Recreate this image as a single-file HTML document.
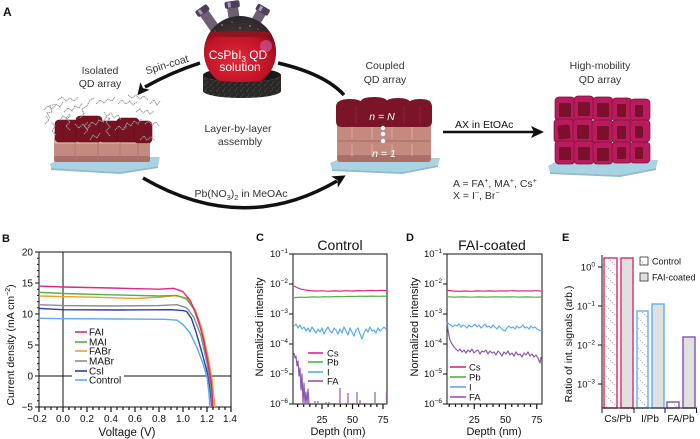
<!DOCTYPE html>
<html><head><meta charset="utf-8">
<style>
html,body{margin:0;padding:0;background:#fff;}
svg{display:block;font-family:"Liberation Sans",Arial,sans-serif;}
</style></head><body>
<svg width="700" height="439" viewBox="0 0 700 439" xmlns="http://www.w3.org/2000/svg">
<defs>
  <pattern id="hatch" width="10" height="10" patternUnits="userSpaceOnUse">
    <path d="M-2,-2 L12,12 M-2,8 L2,12 M8,-2 L12,2" stroke="#9a9a9a" stroke-width="0.7" stroke-dasharray="1.6 1.2"/>
  </pattern>
  <radialGradient id="redg" cx="0.45" cy="0.45" r="0.6">
    <stop offset="0" stop-color="#e02838"/>
    <stop offset="0.7" stop-color="#c01426"/>
    <stop offset="1" stop-color="#7a0a16"/>
  </radialGradient>
  <radialGradient id="glassg" cx="0.5" cy="0.6" r="0.6">
    <stop offset="0" stop-color="#5a4a46"/>
    <stop offset="1" stop-color="#2e2628"/>
  </radialGradient>
  <clipPath id="sph"><circle cx="240" cy="52" r="36"/></clipPath>
  <pattern id="cork" width="6" height="6" patternUnits="userSpaceOnUse">
    <rect width="6" height="6" fill="#2a2826"/>
    <circle cx="1" cy="1" r="0.7" fill="#55524e"/>
    <circle cx="4" cy="3.5" r="0.6" fill="#4a4744"/>
    <circle cx="2.5" cy="5" r="0.5" fill="#5e5a56"/>
  </pattern>
</defs>

<!-- ================= PANEL A ================= -->
<text x="3" y="16" font-size="12" font-weight="bold" fill="#111">A</text>

<!-- flask necks -->
<g transform="rotate(-35 209 20)"><rect x="204" y="10" width="10" height="22" fill="#6e6070"/><rect x="202" y="5" width="14" height="7" rx="2" fill="#4e3e5c"/><rect x="205" y="6" width="3" height="5" fill="#a898b4"/></g>
<g transform="rotate(-8 233 14)"><rect x="228" y="6" width="11" height="20" fill="#6e6070"/><rect x="226" y="1" width="15" height="7" rx="2" fill="#4e3e5c"/><rect x="229" y="2" width="3" height="5" fill="#a898b4"/></g>
<g transform="rotate(30 258 18)"><rect x="253" y="10" width="10" height="20" fill="#6e6070"/><rect x="251" y="5" width="14" height="7" rx="2" fill="#4e3e5c"/><rect x="254" y="6" width="3" height="5" fill="#a898b4"/></g>

<!-- cork back -->
<ellipse cx="242" cy="75" rx="39" ry="7" fill="#1c1a18"/>
<!-- sphere -->
<circle cx="240" cy="52" r="36" fill="url(#glassg)"/>
<g clip-path="url(#sph)">
  <rect x="200" y="33" width="80" height="60" fill="url(#redg)"/>
  <ellipse cx="240" cy="34" rx="36" ry="3" fill="#8e1420"/>
  <circle cx="222" cy="25" r="1" fill="#8a7a5a"/><circle cx="232" cy="22" r="0.8" fill="#7a6a50"/>
  <circle cx="250" cy="26" r="1" fill="#8a7a5a"/><circle cx="258" cy="29" r="0.8" fill="#6a5a48"/>
  <circle cx="240" cy="28" r="0.9" fill="#8a7a5a"/><circle cx="215" cy="31" r="0.8" fill="#6a5a48"/>
  <circle cx="266" cy="46" r="6" fill="#d060a8" opacity="0.6"/>
</g>
<!-- cork front -->
<path d="M203,75 A39,7 0 0 0 281,75 L281,91 A39,7 0 0 1 203,91 Z" fill="url(#cork)"/>
<text x="238" y="59" font-size="12" fill="#fff" text-anchor="middle">CsPbI<tspan dy="3" font-size="8">3</tspan><tspan dy="-3"> QD</tspan></text>
<text x="240" y="71" font-size="12" fill="#fff" text-anchor="middle">solution</text>

<!-- arrows -->
<path d="M200,63 Q172,72 145,87" fill="none" stroke="#111" stroke-width="3.5"/>
<polygon points="137.4,95.3 140.4,82.2 143.1,88.3 149.6,89.8" fill="#111"/>
<path d="M278,63 Q325,74 344,95" fill="none" stroke="#111" stroke-width="3.5"/>
<path d="M143,178 Q243,236 337,181" fill="none" stroke="#111" stroke-width="3.5"/>
<polygon points="345.7,175.4 331.2,176.4 337.5,180.2 337.8,187.6" fill="#111"/>
<line x1="443" y1="132" x2="534" y2="132" stroke="#111" stroke-width="2.5"/>
<polygon points="544,132 531,126 534,132 531,138" fill="#111"/>

<!-- panel A labels -->
<g fill="#333" font-size="10.5">
<text x="168" y="68" text-anchor="middle" transform="rotate(-17 168 68)">Spin-coat</text>
<text x="100" y="74" text-anchor="middle">Isolated</text>
<text x="100" y="87" text-anchor="middle">QD array</text>
<text x="238" y="132" text-anchor="middle">Layer-by-layer</text>
<text x="240" y="145" text-anchor="middle">assembly</text>
<text x="241" y="197" text-anchor="middle">Pb(NO<tspan dy="3" font-size="7.5">3</tspan><tspan dy="-3">)</tspan><tspan dy="3" font-size="7.5">2</tspan><tspan dy="-3"> in MeOAc</tspan></text>
<text x="385" y="69" text-anchor="middle">Coupled</text>
<text x="385" y="83" text-anchor="middle">QD array</text>
<text x="600" y="69" text-anchor="middle">High-mobility</text>
<text x="600" y="83" text-anchor="middle">QD array</text>
<text x="455" y="128" fill="#111">AX in EtOAc</text>
<text x="453" y="187">A = FA<tspan dy="-4" font-size="7">+</tspan><tspan dy="4">, MA</tspan><tspan dy="-4" font-size="7">+</tspan><tspan dy="4">, Cs</tspan><tspan dy="-4" font-size="7">+</tspan></text>
<text x="453" y="199">X = I<tspan dy="-4" font-size="7">−</tspan><tspan dy="4">, Br</tspan><tspan dy="-4" font-size="7">−</tspan></text>
</g>

<!-- isolated QD array -->
<polygon points="50,164 62,157 160,157 158,166 120,172 51,168" fill="#a9d3e3"/>
<polygon points="51,168 120,172 158,166 158,168 120,174 51,170" fill="#8fbccc"/>
<rect x="54" y="138" width="96" height="24" rx="3" fill="#c48a80"/>
<rect x="54" y="138" width="96" height="6" rx="2" fill="#d4a39a"/>
<rect x="54" y="156" width="96" height="6" rx="2" fill="#a87068"/>
<g stroke="#b07870" stroke-width="1"><line x1="75" y1="140" x2="75" y2="160"/><line x1="98" y1="140" x2="98" y2="160"/><line x1="120" y1="140" x2="120" y2="160"/><line x1="138" y1="140" x2="138" y2="160"/></g>
<g fill="#761222" stroke="#5e0c18" stroke-width="0.6">
<rect x="55" y="120" width="24" height="22" rx="4"/>
<rect x="76" y="116" width="26" height="26" rx="4"/>
<rect x="99" y="121" width="22" height="21" rx="4"/>
<rect x="117" y="118" width="22" height="24" rx="4"/>
<rect x="134" y="121" width="18" height="22" rx="4"/>
</g>
<g fill="none" stroke="#9a9a9a" stroke-width="1.1" stroke-dasharray="1.3 0.6">
<polyline points="44,110 48,106 52,109 56,104 60,107 63,102"/>
<polyline points="50,118 47,113 52,112 50,106 55,104"/>
<polyline points="58,100 62,97 66,101 70,98 74,101 78,97"/>
<polyline points="64,112 68,108 72,111 75,106 79,108 82,103"/>
<polyline points="80,118 84,114 82,109 87,106 90,100 94,98"/>
<polyline points="88,126 92,122 96,125 99,120 103,122 106,117 110,119"/>
<polyline points="96,104 100,100 104,103 108,99 112,101 115,97"/>
<polyline points="104,112 107,116 111,113 114,118 118,115 121,120"/>
<polyline points="118,104 122,100 126,104 130,101 133,105 137,102"/>
<polyline points="124,128 127,123 131,126 134,121 138,124 141,119"/>
<polyline points="136,112 140,109 143,113 147,110 150,114 154,111"/>
<polyline points="145,124 149,121 152,125 156,122 159,126"/>
<polyline points="70,130 66,126 70,122 66,118 70,114"/>
<polyline points="110,136 106,131 110,127 106,122 110,118"/>
<polyline points="140,140 144,136 147,140 151,137 155,141"/>
<polyline points="56,135 52,131 55,126 51,122"/>
<polyline points="90,140 93,135 97,138 100,133"/>
<polyline points="128,95 132,98 136,95 140,99 144,96 148,100"/>
<polyline points="75,124 79,128 83,124 87,129 91,125"/>
<polyline points="115,130 119,126 123,130 127,126"/>
<polyline points="150,104 154,100 157,105 160,101"/>
<polyline points="60,120 63,116 67,119 71,115"/>
<polyline points="84,134 88,130 84,126 88,122"/>
<polyline points="45,124 49,120 46,116"/>
</g>

<!-- coupled QD array -->
<polygon points="330,163 344,157 440,158 438,165 402,172 332,169" fill="#a9d3e3"/>
<polygon points="332,169 402,172 438,165 438,167 402,174 332,171" fill="#8fbccc"/>
<rect x="337" y="121" width="94" height="41" rx="4" fill="#c48a80"/>
<rect x="337" y="155" width="94" height="7" rx="3" fill="#a87068"/>
<line x1="338" y1="141" x2="430" y2="141" stroke="#a87068" stroke-width="1.2"/>
<g stroke="#d2a097" stroke-width="1.5"><line x1="352" y1="125" x2="352" y2="139"/><line x1="372" y1="125" x2="372" y2="139"/><line x1="392" y1="125" x2="392" y2="139"/><line x1="412" y1="125" x2="412" y2="139"/>
<line x1="352" y1="144" x2="352" y2="156"/><line x1="372" y1="144" x2="372" y2="156"/><line x1="392" y1="144" x2="392" y2="156"/><line x1="412" y1="144" x2="412" y2="156"/></g>
<rect x="336" y="101" width="96" height="26" rx="5" fill="#7a1426"/>
<g fill="#7a1426"><ellipse cx="350" cy="103" rx="12" ry="4"/><ellipse cx="374" cy="101" rx="13" ry="4"/><ellipse cx="398" cy="102" rx="12" ry="4"/><ellipse cx="420" cy="103" rx="11" ry="4"/></g>
<g stroke="#8e2434" stroke-width="1"><line x1="356" y1="106" x2="356" y2="124"/><line x1="404" y1="106" x2="404" y2="124"/><line x1="420" y1="106" x2="420" y2="124"/></g>
<text x="382" y="120" font-size="10.5" fill="#fff" text-anchor="middle" font-style="italic">n = N</text>
<circle cx="383" cy="128" r="2.2" fill="#fff"/><circle cx="383" cy="134" r="2.2" fill="#fff"/><circle cx="383" cy="141" r="2.2" fill="#fff"/>
<text x="384" y="157" font-size="10.5" fill="#fff" text-anchor="middle" font-style="italic">n = 1</text>

<!-- high-mobility QD array -->
<polygon points="548,166 560,159 658,160 656,168 620,175 550,172" fill="#a9d3e3"/>
<polygon points="550,172 620,175 656,168 656,170 620,177 550,174" fill="#8fbccc"/>
<g stroke="#7d0f38" stroke-width="0.7">
<g fill="#b91c5c">
<rect x="555" y="97" width="20" height="24" rx="4"/><rect x="574" y="96" width="20" height="24" rx="4"/><rect x="593" y="97" width="20" height="24" rx="4"/><rect x="612" y="98" width="20" height="23" rx="4"/><rect x="630" y="99" width="20" height="22" rx="4"/>
<rect x="554" y="119" width="20" height="24" rx="4"/><rect x="573" y="119" width="20" height="24" rx="4"/><rect x="592" y="120" width="21" height="23" rx="4"/><rect x="612" y="120" width="20" height="23" rx="4"/><rect x="630" y="120" width="20" height="22" rx="4"/>
<rect x="555" y="141" width="20" height="23" rx="4"/><rect x="574" y="141" width="20" height="23" rx="4"/><rect x="593" y="142" width="20" height="22" rx="4"/><rect x="612" y="142" width="20" height="21" rx="4"/><rect x="630" y="142" width="20" height="21" rx="4"/>
</g>
<g fill="#7b0f2e" stroke="none">
<rect x="559" y="103" width="12" height="14" rx="1.5"/><rect x="578" y="102" width="12" height="14" rx="1.5"/><rect x="597" y="103" width="12" height="14" rx="1.5"/><rect x="617" y="104" width="9" height="13" rx="1.5"/><rect x="635" y="105" width="8" height="12" rx="1.5"/>
<rect x="558" y="125" width="12" height="14" rx="1.5" transform="rotate(-6 564 132)"/><rect x="577" y="125" width="12" height="14" rx="1.5"/><rect x="597" y="126" width="12" height="14" rx="1.5"/><rect x="617" y="126" width="9" height="13" rx="1.5"/><rect x="635" y="126" width="8" height="12" rx="1.5"/>
<rect x="559" y="147" width="12" height="13" rx="1.5"/><rect x="578" y="147" width="12" height="13" rx="1.5"/><rect x="597" y="148" width="12" height="13" rx="1.5"/><rect x="617" y="147" width="9" height="12" rx="1.5"/><rect x="635" y="147" width="8" height="12" rx="1.5"/>
</g>
</g>

<!-- ================= PANEL B ================= -->
<text x="2" y="242" font-size="11" font-weight="bold" fill="#111">B</text>
<rect x="39" y="252" width="192" height="155" fill="none" stroke="#111" stroke-width="1"/>
<line x1="63" y1="252" x2="63" y2="407" stroke="#111" stroke-width="1"/>
<line x1="39" y1="376" x2="231" y2="376" stroke="#111" stroke-width="1"/>
<!-- left ticks -->
<path d="M35,252H39M35,283H39M35,314H39M35,345H39M35,376H39M35,407H39
M37,400.8H39M37,394.6H39M37,388.4H39M37,382.2H39M37,369.8H39M37,363.6H39M37,357.4H39M37,351.2H39M37,338.8H39M37,332.6H39M37,326.4H39M37,320.2H39M37,307.8H39M37,301.6H39M37,295.4H39M37,289.2H39M37,276.8H39M37,270.6H39M37,264.4H39M37,258.2H39" stroke="#111" stroke-width="1"/>
<!-- bottom ticks -->
<path d="M39,407V412M63,407V412M87,407V412M111,407V412M135,407V412M159,407V412M183,407V412M207,407V412M231,407V412
M45,407V410M51,407V410M57,407V410M69,407V410M75,407V410M81,407V410M93,407V410M99,407V410M105,407V410M117,407V410M123,407V410M129,407V410M141,407V410M147,407V410M153,407V410M165,407V410M171,407V410M177,407V410M189,407V410M195,407V410M201,407V410M213,407V410M219,407V410M225,407V410" stroke="#111" stroke-width="1.2"/>
<g font-size="10" fill="#111" text-anchor="end">
<text x="33" y="255.5">20</text><text x="33" y="286.5">15</text><text x="33" y="317.5">10</text><text x="33" y="348.5">5</text><text x="33" y="379.5">0</text><text x="33" y="410.5">−5</text>
</g>
<g font-size="10" fill="#111" text-anchor="middle">
<text x="37" y="422">−0.2</text><text x="63" y="422">0.0</text><text x="87" y="422">0.2</text><text x="111" y="422">0.4</text><text x="135" y="422">0.6</text><text x="159" y="422">0.8</text><text x="183" y="422">1.0</text><text x="207" y="422">1.2</text><text x="230" y="422">1.4</text>
</g>
<text x="127" y="436" font-size="11.5" fill="#111" text-anchor="middle">Voltage (V)</text>
<text transform="translate(14,345) rotate(-90)" font-size="10.5" fill="#111" text-anchor="middle">Current density (mA cm<tspan dy="-4" font-size="7">−2</tspan><tspan dy="4">)</tspan></text>
<!-- curves -->
<g fill="none" stroke-width="1.4" stroke-linejoin="round">
<polyline stroke="#5aabf0" points="39,318.3 63,318.7 123,319 165,319.3 177,320.2 183,324.5 190.2,333.2 197.4,348.7 203.4,364.8 207,377.2 208.8,391.5 210,407"/>
<polyline stroke="#2b3cae" points="39,308.4 63,309.7 123,310 171,309.7 183,310.6 186.6,311.5 191.4,318.3 196.2,332.6 202.2,353.7 208.2,376 210,388.4 211.8,407"/>
<polyline stroke="#8c8c8c" points="39,304.7 63,305.6 111,306 159,305.6 177,304.7 186.6,307.8 193.8,317.1 201,335.7 207,363.6 210.6,385.3 212.4,407"/>
<polyline stroke="#f0a030" points="39,296 63,296.6 99,297.3 135,298.5 159,297.3 174.6,295.7 186.6,297.9 195,309 202.2,329.5 208.2,357.4 212.4,382.2 214.8,407"/>
<polyline stroke="#55b04a" points="39,292.3 63,293.5 111,294.8 159,296 177,295.4 186.6,299.1 193.8,309 201,329.5 207,357.4 211.2,382.2 213,407"/>
<polyline stroke="#e0287a" points="39,286.1 63,287 111,288 159,289.2 173.4,288.3 183,291.7 190.2,300.4 197.4,317.1 203.4,338.8 208.2,363.6 211.2,382.2 213,407"/>
</g>
<!-- legend -->
<rect x="72" y="327" width="52" height="58" fill="#fff"/>
<g stroke-width="1.6">
<line x1="75" y1="332" x2="87" y2="332" stroke="#e0287a"/>
<line x1="75" y1="342" x2="87" y2="342" stroke="#55b04a"/>
<line x1="75" y1="351" x2="87" y2="351" stroke="#f0a030"/>
<line x1="75" y1="361" x2="87" y2="361" stroke="#8c8c8c"/>
<line x1="75" y1="371" x2="87" y2="371" stroke="#2b3cae"/>
<line x1="75" y1="380" x2="87" y2="380" stroke="#5aabf0"/>
</g>
<g font-size="10" fill="#111">
<text x="89" y="335.5">FAI</text><text x="89" y="345.5">MAI</text><text x="89" y="354.5">FABr</text><text x="89" y="364.5">MABr</text><text x="89" y="374.5">CsI</text><text x="89" y="383.5">Control</text>
</g>

<!-- ================= PANEL C ================= -->
<text x="256" y="241" font-size="11" font-weight="bold" fill="#111">C</text>
<text x="340" y="250" font-size="14" fill="#111" text-anchor="middle">Control</text>
<rect x="293" y="254" width="94" height="150" fill="none" stroke="#111" stroke-width="1"/>
<path d="M289,254H293M289,284H293M289,314H293M289,344H293M289,374H293M289,404H293" stroke="#111" stroke-width="1"/>
<path d="M322,404V409M352.5,404V409M383,404V409M297.6,404V407M303.7,404V407M309.8,404V407M315.9,404V407M328.1,404V407M334.2,404V407M340.3,404V407M346.4,404V407M358.6,404V407M364.7,404V407M370.8,404V407M376.9,404V407" stroke="#111" stroke-width="1.2"/>
<g font-size="9.5" fill="#111" text-anchor="end">
<text x="288" y="257">10<tspan dy="-4" font-size="6.5">−1</tspan></text>
<text x="288" y="287">10<tspan dy="-4" font-size="6.5">−2</tspan></text>
<text x="288" y="317">10<tspan dy="-4" font-size="6.5">−3</tspan></text>
<text x="288" y="347">10<tspan dy="-4" font-size="6.5">−4</tspan></text>
<text x="288" y="377">10<tspan dy="-4" font-size="6.5">−5</tspan></text>
<text x="288" y="407">10<tspan dy="-4" font-size="6.5">−6</tspan></text>
</g>
<g font-size="10" fill="#111" text-anchor="middle"><text x="322" y="423">25</text><text x="352.5" y="423">50</text><text x="383" y="423">75</text></g>
<text x="338" y="435" font-size="11" fill="#111" text-anchor="middle">Depth (nm)</text>
<text transform="translate(263,327) rotate(-90)" font-size="11" fill="#111" text-anchor="middle">Normalized intensity</text>
<g fill="none" stroke-width="1.2" stroke-linejoin="round">
<polyline stroke="#e0287a" points="294,286 297,287.5 300,288.8 304,289.8 310,290.6 316,291 322,290.8 328,291.2 334,290.9 340,291.1 346,290.7 352,291 358,290.6 364,290.8 370,290.4 376,290.7 382,290.3 387,290.6"/>
<polyline stroke="#55b04a" points="294,297.6 300,297.2 306,297.4 312,296.9 318,297.1 324,296.7 330,296.9 336,296.5 342,296.7 348,296.3 354,296.5 360,296.2 366,296.4 372,296.1 378,296.3 387,296.1"/>
<polyline stroke="#5aabf0" points="294,326 296,324 298,328 300,325 302,329 304,327 306,331 308,328 310,332 312,327 314,330 316,333 318,329 320,332 322,328 324,334 326,330 328,327 330,331 332,333 334,328 336,330 338,334 340,329 342,333 344,327 346,331 348,335 350,328 352,332 354,336 356,330 358,328 360,334 362,339 364,333 366,329 368,332 370,327 372,331 374,330 376,333 378,328 380,331 382,329 384,327 386,329"/>
<polyline stroke="#8a5cb0" points="294,353 295,358 296,356 297,366 298,361 299,376 300,368 301,390 302,374 303,404 304,383 305,404 306,392 307,404 308,389 309,404"/>
<path stroke="#8a5cb0" d="M315,404V401M318,404V401M326,404V402M329,404V402M340,404V388M348,404V393M357,404V392M360,404V400M375,404V392M386.5,404V392"/>
</g>
<g stroke-width="1.6">
<line x1="308" y1="353" x2="323" y2="353" stroke="#e0287a"/>
<line x1="308" y1="362" x2="323" y2="362" stroke="#55b04a"/>
<line x1="308" y1="372" x2="323" y2="372" stroke="#5aabf0"/>
<line x1="308" y1="381" x2="323" y2="381" stroke="#8a5cb0"/>
</g>
<g font-size="9.5" fill="#111"><text x="327" y="356.5">Cs</text><text x="327" y="365.5">Pb</text><text x="327" y="375.5">I</text><text x="327" y="384.5">FA</text></g>

<!-- ================= PANEL D ================= -->
<text x="406" y="241" font-size="11" font-weight="bold" fill="#111">D</text>
<text x="492" y="250" font-size="14" fill="#111" text-anchor="middle">FAI-coated</text>
<rect x="447" y="254" width="95" height="150" fill="none" stroke="#111" stroke-width="1"/>
<path d="M443,254H447M443,284H447M443,314H447M443,344H447M443,374H447M443,404H447" stroke="#111" stroke-width="1"/>
<path d="M474.25,404V409M505.5,404V409M536.75,404V409M449.25,404V407M455.5,404V407M461.75,404V407M468,404V407M480.5,404V407M486.75,404V407M493,404V407M499.25,404V407M511.75,404V407M518,404V407M524.25,404V407M530.5,404V407" stroke="#111" stroke-width="1.2"/>
<g font-size="9.5" fill="#111" text-anchor="end">
<text x="442" y="257">10<tspan dy="-4" font-size="6.5">−1</tspan></text>
<text x="442" y="287">10<tspan dy="-4" font-size="6.5">−2</tspan></text>
<text x="442" y="317">10<tspan dy="-4" font-size="6.5">−3</tspan></text>
<text x="442" y="347">10<tspan dy="-4" font-size="6.5">−4</tspan></text>
<text x="442" y="377">10<tspan dy="-4" font-size="6.5">−5</tspan></text>
<text x="442" y="407">10<tspan dy="-4" font-size="6.5">−6</tspan></text>
</g>
<g font-size="10" fill="#111" text-anchor="middle"><text x="474.25" y="423">25</text><text x="505.5" y="423">50</text><text x="536.75" y="423">75</text></g>
<text x="494" y="435" font-size="11" fill="#111" text-anchor="middle">Depth (nm)</text>
<text transform="translate(418,327) rotate(-90)" font-size="11" fill="#111" text-anchor="middle">Normalized intensity</text>
<g fill="none" stroke-width="1.2" stroke-linejoin="round">
<polyline stroke="#e0287a" points="447,290.2 453,291 459,291.4 465,291 471,291.3 477,290.9 483,291.2 489,290.9 495,291.1 501,290.8 507,291 513,290.7 519,291 525,290.8 531,291 537,290.7 541,291.1"/>
<polyline stroke="#55b04a" points="447,296.8 455,297.1 463,296.9 471,297.2 479,296.9 487,297.1 495,296.8 503,297 511,296.8 519,297.1 527,296.9 535,297.2 541,297"/>
<polyline stroke="#5aabf0" points="447,322 449,324 451,325 453,327 455,325 457,326 459,324 461,327 463,325 465,326 467,328 469,325 471,327 473,326 475,324 477,327 479,325 481,328 483,326 485,324 487,327 489,326 491,328 493,325 495,327 497,329 499,326 501,328 503,330 505,331 507,328 509,326 511,328 513,327 515,329 517,326 519,328 521,327 523,325 525,328 527,327 529,329 531,326 533,328 535,327 537,329 539,330 541,331"/>
<polyline stroke="#8a5cb0" points="447,322 448,330 449,336 450,340 452,344 454,347 456,349 458,351 460,349 462,352 464,350 466,353 468,350 470,352 472,349 474,353 476,351 478,350 480,354 482,351 484,352 486,350 488,354 490,351 492,353 494,352 496,355 498,351 500,353 502,356 504,352 506,354 508,351 510,355 512,353 514,356 516,352 518,355 520,354 522,357 524,353 526,355 528,352 530,356 532,354 534,357 536,355 538,358 540,363 541,357"/>
</g>
<g stroke-width="1.6">
<line x1="450" y1="367" x2="466" y2="367" stroke="#e0287a"/>
<line x1="450" y1="377" x2="466" y2="377" stroke="#55b04a"/>
<line x1="450" y1="387" x2="466" y2="387" stroke="#5aabf0"/>
<line x1="450" y1="397" x2="466" y2="397" stroke="#8a5cb0"/>
</g>
<g font-size="9.5" fill="#111"><text x="469" y="370.5">Cs</text><text x="469" y="380.5">Pb</text><text x="469" y="390.5">I</text><text x="469" y="400.5">FA</text></g>

<!-- ================= PANEL E ================= -->
<text x="562" y="241" font-size="11" font-weight="bold" fill="#111">E</text>
<rect x="604" y="258" width="13" height="150" fill="url(#hatch)" stroke="#e8336f" stroke-width="1.5"/>
<rect x="621" y="258" width="12" height="150" fill="#e0e0e0" stroke="#e8336f" stroke-width="1.5"/>
<rect x="637" y="311" width="11" height="97" fill="url(#hatch)" stroke="#6ab4ee" stroke-width="1.5"/>
<rect x="652" y="304" width="12" height="104" fill="#e0e0e0" stroke="#6ab4ee" stroke-width="1.5"/>
<rect x="667" y="402" width="12" height="6" fill="url(#hatch)" stroke="#8a5cb0" stroke-width="1.5"/>
<rect x="683" y="337" width="12" height="71" fill="#e0e0e0" stroke="#8a5cb0" stroke-width="1.5"/>
<line x1="602" y1="255" x2="602" y2="408" stroke="#111" stroke-width="1"/>
<line x1="602" y1="408" x2="697" y2="408" stroke="#111" stroke-width="1"/>
<path d="M598,267H602M598,306H602M598,345H602M598,384H602M602,408V413M634,408V413M665,408V413M696.5,408V413" stroke="#111" stroke-width="1"/>
<g font-size="9.5" fill="#111" text-anchor="end">
<text x="595" y="270.5">10<tspan dy="-4" font-size="6.5">0</tspan></text>
<text x="595" y="309.5">10<tspan dy="-4" font-size="6.5">−1</tspan></text>
<text x="595" y="348.5">10<tspan dy="-4" font-size="6.5">−2</tspan></text>
<text x="595" y="387.5">10<tspan dy="-4" font-size="6.5">−3</tspan></text>
</g>
<g font-size="10" fill="#111" text-anchor="middle"><text x="618" y="422">Cs/Pb</text><text x="650" y="422">I/Pb</text><text x="681" y="422">FA/Pb</text></g>
<text transform="translate(572,344) rotate(-90)" font-size="10.5" fill="#111" text-anchor="middle">Ratio of int. signals (arb.)</text>
<rect x="640" y="257" width="8" height="8" fill="url(#hatch)" stroke="#333" stroke-width="0.8"/>
<rect x="640" y="273" width="8" height="8" fill="#e0e0e0" stroke="#333" stroke-width="0.8"/>
<g font-size="9" fill="#111"><text x="652" y="264.5">Control</text><text x="652" y="280.5">FAI-coated</text></g>
</svg>
</body></html>
